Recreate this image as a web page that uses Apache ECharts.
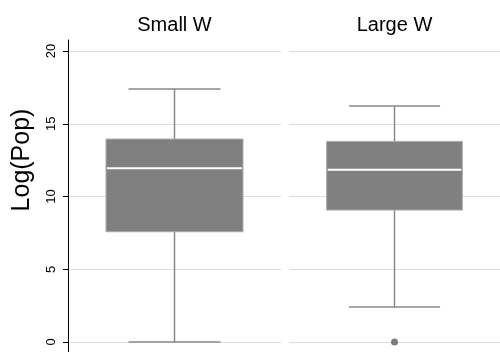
<!DOCTYPE html>
<html>
<head>
<meta charset="utf-8">
<script src="https://cdn.jsdelivr.net/npm/echarts@6/dist/echarts.min.js"></script>
<style>
html,body{margin:0;padding:0;background:#fff;}
#chart{width:500px;height:352px;}
</style>
</head>
<body>
<div id="chart"></div>
<script>
const categories = ['Small W', 'Large W'];
const whiskerLow = [0, 2.4];
const q1 = [7.58, 9.07];
const median = [11.94, 11.84];
const q3 = [13.95, 13.79];
const whiskerHigh = [17.39, 16.22];
const outliers = [[], [0]];
const yTicks = [0, 5, 10, 15, 20];
const yTitle = 'Log(Pop)';

const Y_MIN = -0.687, Y_MAX = 20.76;
const FONT = 'Liberation Sans, Arial, Helvetica, sans-serif';

function renderBox(params, api) {
  const x = api.value(0);
  const lo = api.value(1), a = api.value(2), m = api.value(3), b = api.value(4), hi = api.value(5);
  const band = api.size([1, 0])[0];
  const cx = api.coord([x, m])[0];
  const bw = band * 0.643, cw = band * 0.432;
  const yLo = api.coord([x, lo])[1], yA = api.coord([x, a])[1], yM = api.coord([x, m])[1];
  const yB = api.coord([x, b])[1], yHi = api.coord([x, hi])[1];
  const wStyle = { stroke: '#888888', lineWidth: 1.5 };
  return {
    type: 'group',
    children: [
      { type: 'line', shape: { x1: cx, y1: yHi, x2: cx, y2: yB }, style: wStyle },
      { type: 'line', shape: { x1: cx, y1: yA, x2: cx, y2: yLo }, style: wStyle },
      { type: 'line', shape: { x1: cx - cw / 2, y1: yHi, x2: cx + cw / 2, y2: yHi }, style: wStyle },
      { type: 'line', shape: { x1: cx - cw / 2, y1: yLo, x2: cx + cw / 2, y2: yLo }, style: wStyle },
      { type: 'rect', shape: { x: cx - bw / 2, y: yB, width: bw, height: yA - yB },
        style: { fill: '#808080', stroke: '#a8a8a8', lineWidth: 1 } },
      { type: 'line', shape: { x1: cx - bw / 2 + 1, y1: yM, x2: cx + bw / 2 - 1, y2: yM },
        style: { stroke: '#ffffff', lineWidth: 2 } }
    ]
  };
}

const grids = [
  { left: 68, width: 213, top: 40, bottom: 0 },
  { left: 289, right: 0, top: 40, bottom: 0 }
];

const xAxes = categories.map((c, i) => ({
  type: 'category', gridIndex: i, data: [c], position: 'top',
  axisLine: { show: false }, axisTick: { show: false },
  axisLabel: { fontSize: 20, color: '#000', fontFamily: FONT, margin: 5 }
}));

const yAxes = categories.map((c, i) => ({
  type: 'value', gridIndex: i, min: Y_MIN, max: Y_MAX,
  name: i === 0 ? yTitle : '',
  nameLocation: 'middle', nameGap: 33,
  nameTextStyle: { fontSize: 25, color: '#000', fontFamily: FONT, padding: [0, 0, 0, 72] },
  axisLine: { show: i === 0, lineStyle: { color: '#000', width: 1 } },
  axisTick: { show: i === 0, customValues: yTicks, length: 5, lineStyle: { color: '#000' } },
  axisLabel: { show: i === 0, customValues: yTicks, rotate: 90, fontSize: 13, color: '#000', fontFamily: FONT, margin: 10 },
  splitLine: { show: true, lineStyle: { color: '#dedede', width: 1 } }
}));

const series = [];
categories.forEach((c, i) => {
  series.push({
    type: 'custom', xAxisIndex: i, yAxisIndex: i,
    renderItem: renderBox,
    encode: { x: 0, y: [1, 2, 3, 4, 5] },
    data: [[0, whiskerLow[i], q1[i], median[i], q3[i], whiskerHigh[i]]],
    silent: true
  });
  series.push({
    type: 'scatter', xAxisIndex: i, yAxisIndex: i,
    symbolSize: 7, itemStyle: { color: '#5c5c5c' },
    data: outliers[i].map(v => [0, v]),
    silent: true
  });
});

const chart = echarts.init(document.getElementById('chart'), null, { renderer: 'canvas' });
chart.setOption({
  animation: false,
  backgroundColor: '#fff',
  grid: grids,
  xAxis: xAxes,
  yAxis: yAxes,
  series: series
});
</script>
</body>
</html>
